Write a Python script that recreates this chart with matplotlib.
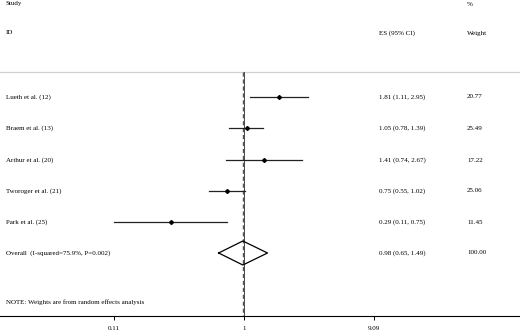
import numpy as np
import matplotlib
matplotlib.use("Agg")
import matplotlib.pyplot as plt

plt.rcParams['font.family'] = ['Liberation Serif', 'DejaVu Serif']

studies = ["Lueth et al. (12)", "Braem et al. (13)", "Arthur et al. (20)",
           "Tworoger et al. (21)", "Park et al. (25)"]
es = [1.81, 1.05, 1.41, 0.75, 0.29]
lo = [1.11, 0.78, 0.74, 0.55, 0.11]
hi = [2.95, 1.39, 2.67, 1.02, 0.75]
weights = [20.77, 25.49, 17.22, 25.06, 11.45]

overall_label = "Overall  (I-squared=75.9%, P=0.002)"
overall_es, overall_lo, overall_hi = 0.98, 0.65, 1.49
overall_weight = 100.00

xticks = [0.11, 1, 9.09]
xticklabels = ["0.11", "1", "9.09"]

# row positions in pixels from the top
row_y = [97, 128, 160, 191, 222]
overall_y = 253

fs = 5
fig = plt.figure(figsize=(5.2, 3.31), dpi=100)
ax = fig.add_axes([0, 15 / 331, 1, 316 / 331])
ax.set_xscale("log")
ax.set_xlim(0.01587, 108.4)
ax.set_ylim(316, 0)

for s in ["top", "right", "left"]:
    ax.spines[s].set_visible(False)
ax.spines["bottom"].set_linewidth(0.8)
ax.set_yticks([])
ax.set_xticks(xticks)
ax.set_xticklabels(xticklabels, fontsize=fs)
ax.minorticks_off()
ax.tick_params(axis="x", direction="out", length=3, width=0.7, pad=4)


def txt(xpix, y, s):
    ax.text(xpix / 520, y, s, fontsize=fs, va="center", ha="left",
            transform=ax.get_yaxis_transform())


# header rule
ax.axhline(72, color="#d0d0d0", lw=0.9)

# lines at null and overall effect
ax.plot([1, 1], [72, 316], color="black", lw=0.5)
ax.plot([overall_es, overall_es], [72, 316], color="#555555", lw=1.0, ls=(0, (3, 2)))

for y, e, l, h in zip(row_y, es, lo, hi):
    ax.plot([l, h], [y, y], color="#222222", lw=0.9)
    ax.plot(e, y, marker="D", ms=2, color="black")

dx = [overall_lo, overall_es, overall_hi, overall_es, overall_lo]
dy = [overall_y, overall_y - 12, overall_y, overall_y + 12, overall_y]
ax.plot(dx, dy, color="black", lw=0.9)

txt(6, 4, "Study")
txt(6, 33, "ID")
txt(467, 4, "%")
txt(379, 33, "ES (95% CI)")
txt(467, 33, "Weight")

for y, name, e, l, h, w in zip(row_y, studies, es, lo, hi, weights):
    txt(6, y, name)
    txt(379, y, "%.2f (%.2f, %.2f)" % (e, l, h))
    txt(467, y, "%.2f" % w)

txt(6, overall_y, overall_label)
txt(379, overall_y, "%.2f (%.2f, %.2f)" % (overall_es, overall_lo, overall_hi))
txt(467, overall_y, "%.2f" % overall_weight)
txt(6, 302, "NOTE: Weights are from random effects analysis")

fig.savefig("out.png", dpi=100)
